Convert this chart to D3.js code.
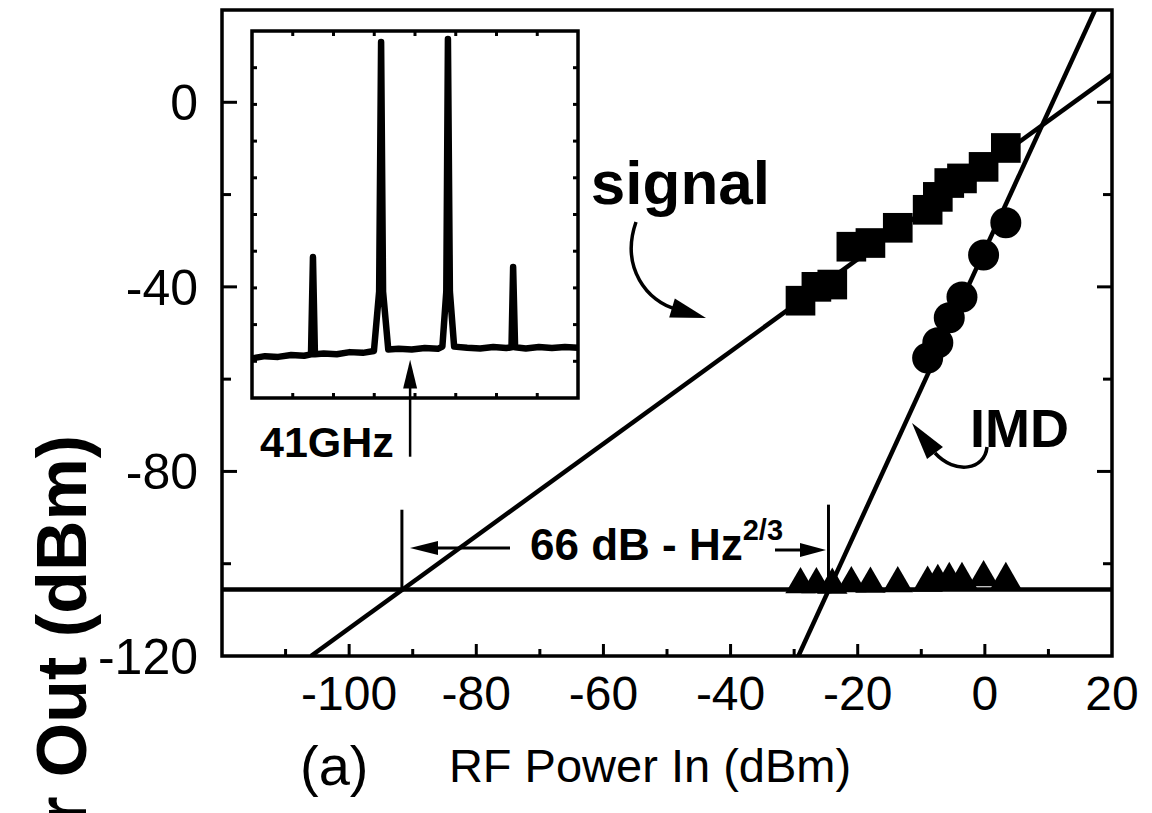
<!DOCTYPE html>
<html>
<head>
<meta charset="utf-8">
<script src="https://cdn.jsdelivr.net/npm/d3@7"></script>
<style>
  body { margin: 0; background: #fff; }
  svg { display: block; }
  text { font-family: Arial, "Liberation Sans", Helvetica, sans-serif; fill: #000; }
</style>
</head>
<body>
<svg id="chart" width="1152" height="813"></svg>
<script>
// measured points, dBm
var powerIn   = [-29, -26.5, -24, -21, -18, -13.7, -9, -7.4, -5.6, -3.6, -0.2, 3.3];
var signalOut = [-43, -40, -39.5, -31.3, -30.5, -27.2, -23.3, -20.5, -17.5, -16.5, -14, -9.9];
var floorOut  = [-104.5, -104.5, -104.6, -104.3, -104.4, -104.3, -104.2, -103.8, -103.4, -103.4, -103, -103.4];
var imdIn     = [-9, -7.4, -5.6, -3.6, -0.2, 3.3];
var imdOut    = [-55.4, -52.1, -46.7, -42.2, -33.1, -26.1];

// fitted lines (end points, dBm)
var signalFit  = [[-106, -120], [20, 6]];
var imdFit     = [[-29.33, -120], [17.33, 20]];
var noiseFloor = -105.6;

var xTicks = [-100, -80, -60, -40, -20, 0, 20];
var yTicks = [0, -40, -80, -120];

// inset spectrum trace (arbitrary units 0-100)
var spectrum = [
  [0, 10.8], [4, 11.4], [8, 11.2], [12, 11.7], [16, 11.5], [18.1, 11.9], [18.7, 38.4], [19.3, 11.9],
  [22, 12.1], [26, 11.9], [30, 12.5], [34, 12.3], [37.4, 12.8], [39.0, 29], [39.6, 97], [40.2, 29],
  [41.8, 13.2], [45, 13.4], [49, 13.2], [53, 13.6], [57, 13.4], [58.4, 14], [59.6, 29], [60.1, 97.8],
  [60.7, 29], [62, 14], [66, 13.7], [70, 13.5], [74, 13.9], [78, 13.6], [79.6, 13.8], [80.1, 35.7],
  [80.7, 13.8], [84, 13.5], [88, 13.9], [92, 13.6], [96, 13.9], [100, 13.7]
];
var markerFreq = 48.5;

var svg = d3.select('#chart');
var x = d3.scaleLinear().domain([-120, 20]).range([222, 1112]);
var y = d3.scaleLinear().domain([-120, 20]).range([656, 10]);

svg.append('clipPath').attr('id', 'plot-clip')
  .append('rect').attr('x', 222).attr('y', 10).attr('width', 890).attr('height', 646);

var line = d3.line().x(function(d) { return x(d[0]); }).y(function(d) { return y(d[1]); });

var arrowHead = function(g, tip, base, half) {
  var dx = tip[0] - base[0], dy = tip[1] - base[1];
  var len = Math.sqrt(dx * dx + dy * dy);
  var nx = -dy / len * half, ny = dx / len * half;
  g.append('path')
    .attr('d', 'M' + tip[0] + ',' + tip[1] + 'L' + (base[0] + nx) + ',' + (base[1] + ny) +
      'L' + (base[0] - nx) + ',' + (base[1] - ny) + 'Z')
    .attr('fill', '#000');
};

// fitted lines
var lines = svg.append('g').attr('clip-path', 'url(#plot-clip)')
  .attr('fill', 'none').attr('stroke', '#000').attr('stroke-width', 4.5);
lines.append('path').attr('d', line(signalFit));
lines.append('path').attr('d', line(imdFit));
lines.append('path').attr('d', line([[-120, noiseFloor], [20, noiseFloor]]));

// markers
var sq = d3.symbol().type(d3.symbolSquare).size(880);
svg.append('g').selectAll('path').data(powerIn).enter().append('path')
  .attr('d', sq)
  .attr('transform', function(d, i) { return 'translate(' + x(d) + ',' + y(signalOut[i]) + ')'; });

svg.append('g').selectAll('circle').data(imdIn).enter().append('circle')
  .attr('cx', function(d) { return x(d); })
  .attr('cy', function(d, i) { return y(imdOut[i]); })
  .attr('r', 15.5);

var tri = d3.symbol().type(d3.symbolTriangle).size(400);
svg.append('g').selectAll('path').data(powerIn).enter().append('path')
  .attr('d', tri)
  .attr('transform', function(d, i) { return 'translate(' + x(d) + ',' + y(floorOut[i]) + ')'; });

// frame and ticks
svg.append('rect').attr('x', 222).attr('y', 10).attr('width', 890).attr('height', 646)
  .attr('fill', 'none').attr('stroke', '#000').attr('stroke-width', 3.5);

var ticks = svg.append('g').attr('stroke', '#000').attr('stroke-width', 3);
d3.range(-110, 20, 10).forEach(function(v) {
  var len = v % 20 === 0 ? 12 : 7;
  ticks.append('line').attr('x1', x(v)).attr('x2', x(v)).attr('y1', 656).attr('y2', 656 - len);
});
d3.range(-100, 20, 20).forEach(function(v) {
  var len = v % 40 === 0 ? 15 : 9;
  ticks.append('line').attr('x1', 222).attr('x2', 222 + len).attr('y1', y(v)).attr('y2', y(v));
  ticks.append('line').attr('x1', 1112).attr('x2', 1112 - len).attr('y1', y(v)).attr('y2', y(v));
});

svg.append('g').selectAll('text').data(xTicks).enter().append('text')
  .attr('x', function(d) { return x(d); }).attr('y', 710)
  .attr('text-anchor', 'middle').style('font-size', '48px')
  .text(function(d) { return d; });

svg.append('g').selectAll('text').data(yTicks).enter().append('text')
  .attr('x', 198).attr('y', function(d) { return y(d); })
  .attr('dy', '0.36em').attr('text-anchor', 'end').style('font-size', '50px')
  .text(function(d) { return d; });

// axis titles
svg.append('text').attr('x', 650).attr('y', 782).attr('text-anchor', 'middle')
  .style('font-size', '47px').text('RF Power In (dBm)');
svg.append('text').attr('x', 300).attr('y', 785).style('font-size', '56px').text('(a)');
svg.append('text').attr('transform', 'translate(86,435) rotate(-90)').attr('text-anchor', 'end')
  .style('font-size', '70px').style('font-weight', 'bold').text('Power Out (dBm)');

// annotations
var ann = svg.append('g');
ann.append('text').attr('x', 770).attr('y', 204).attr('text-anchor', 'end')
  .style('font-size', '62px').style('font-weight', 'bold').text('signal');
ann.append('path').attr('d', 'M636,222 C620,268 648,302 676,309')
  .attr('fill', 'none').attr('stroke', '#000').attr('stroke-width', 3.5);
arrowHead(ann, [706, 318], [672, 308], 10);

ann.append('text').attr('x', 970).attr('y', 447).style('font-size', '54px').style('font-weight', 'bold').text('IMD');
ann.append('path').attr('d', 'M987,447 C985,470 955,475 935,453')
  .attr('fill', 'none').attr('stroke', '#000').attr('stroke-width', 3.5);
arrowHead(ann, [912, 423], [935, 453], 10);

var dim = ann.append('g').attr('stroke', '#000').attr('stroke-width', 3);
dim.append('line').attr('x1', x(-91.7)).attr('x2', x(-91.7)).attr('y1', y(-88.3)).attr('y2', y(noiseFloor));
dim.append('line').attr('x1', x(-24.6)).attr('x2', x(-24.6)).attr('y1', y(-87.2)).attr('y2', y(noiseFloor));
dim.append('line').attr('x1', 510).attr('x2', 435).attr('y1', 548).attr('y2', 548);
dim.append('line').attr('x1', 775).attr('x2', 802).attr('y1', 550).attr('y2', 550);
arrowHead(ann, [410, 548], [438, 548], 7);
arrowHead(ann, [826, 550], [800, 550], 7);
var lbl = ann.append('text').attr('x', 530).attr('y', 560).style('font-size', '44px').style('font-weight', 'bold');
lbl.append('tspan').text('66 dB - Hz');
lbl.append('tspan').attr('dy', -20).style('font-size', '29px').text('2/3');

// inset spectrum
var ix = d3.scaleLinear().domain([0, 100]).range([252, 578]);
var iy = d3.scaleLinear().domain([0, 100]).range([398, 31]);
var inset = svg.append('g');
inset.append('rect').attr('x', 252).attr('y', 31).attr('width', 326).attr('height', 367)
  .attr('fill', '#fff').attr('stroke', '#000').attr('stroke-width', 3.5);
var iticks = inset.append('g').attr('stroke', '#000').attr('stroke-width', 3);
d3.range(12.5, 100, 12.5).forEach(function(v) {
  iticks.append('line').attr('x1', ix(v)).attr('x2', ix(v)).attr('y1', 398).attr('y2', 393);
  iticks.append('line').attr('x1', ix(v)).attr('x2', ix(v)).attr('y1', 31).attr('y2', 36);
});
d3.range(10, 100, 10).forEach(function(v) {
  iticks.append('line').attr('x1', 252).attr('x2', 257).attr('y1', iy(v)).attr('y2', iy(v));
  iticks.append('line').attr('x1', 578).attr('x2', 573).attr('y1', iy(v)).attr('y2', iy(v));
});
var iline = d3.line().x(function(d) { return ix(d[0]); }).y(function(d) { return iy(d[1]); });
inset.append('path').attr('d', iline(spectrum))
  .attr('fill', 'none').attr('stroke', '#000').attr('stroke-width', 6.5).attr('stroke-linejoin', 'round');
inset.append('line').attr('x1', ix(markerFreq)).attr('x2', ix(markerFreq))
  .attr('y1', iy(-16)).attr('y2', iy(4)).attr('stroke', '#000').attr('stroke-width', 2.5);
arrowHead(inset, [ix(markerFreq), iy(10.4)], [ix(markerFreq), iy(2.6)], 7);
inset.append('text').attr('x', 260).attr('y', 457).style('font-size', '43px').style('font-weight', 'bold').text('41GHz');
</script>
</body>
</html>
